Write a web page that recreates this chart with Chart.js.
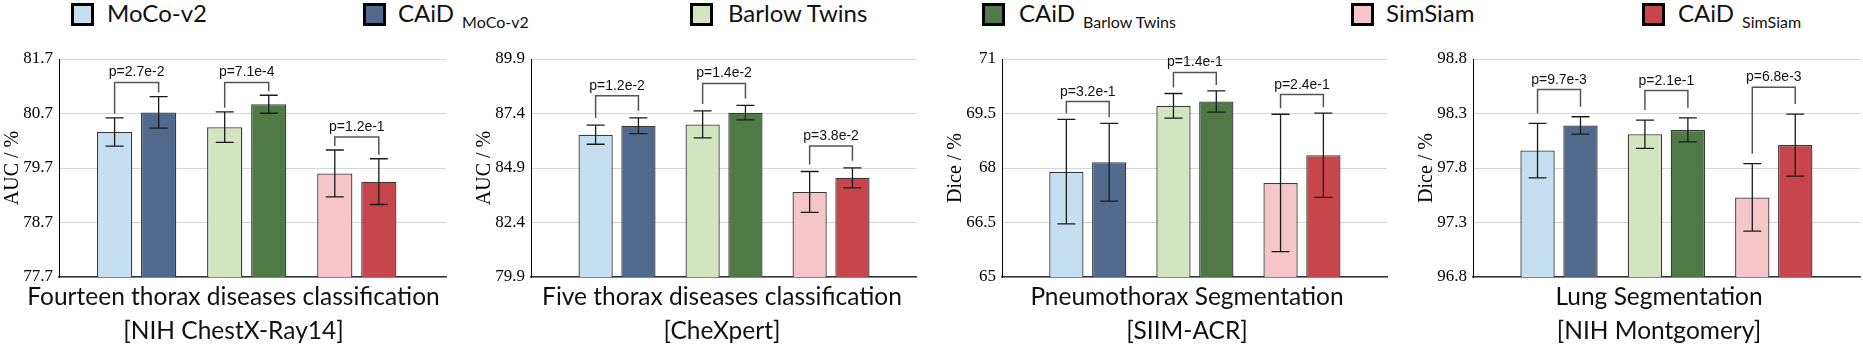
<!DOCTYPE html>
<html>
<head>
<meta charset="utf-8">
<script src="https://cdn.jsdelivr.net/npm/chart.js@4.4.1/dist/chart.umd.min.js"></script>
<style>
  body { margin: 0; background: #fff; width: 1863px; height: 346px; position: relative; overflow: hidden; font-family: Lato, sans-serif; color: #111; }
  .box { position: absolute; top: 3px; width: 17px; height: 17px; border: 3px solid #000; }
  .lab { position: absolute; top: -1px; font-size: 24px; line-height: 28px; white-space: nowrap; }
  .lab sub { font-size: 16px; vertical-align: baseline; position: relative; top: 6px; margin-left: 8px; }
  .panel { position: absolute; top: 40px; }
  .xt { position: absolute; top: 279px; width: 600px; text-align: center; font-size: 24.5px; line-height: 34px; white-space: nowrap; }
</style>
</head>
<body>
<div id="legend"></div>
<div id="charts"></div>
<script>
// methods, in drawing order (pairs share a group)
const methods = ['MoCo-v2', 'CAiD MoCo-v2', 'Barlow Twins', 'CAiD Barlow Twins', 'SimSiam', 'CAiD SimSiam'];
const groups = [1, 2, 3];

// Fourteen thorax diseases classification [NIH ChestX-Ray14]
const chestMean = [80.36, 80.72, 80.45, 80.87, 79.60, 79.45];
const chestErr = [0.26, 0.29, 0.28, 0.165, 0.43, 0.42];
const chestBracket = [81.27, 81.27, 80.27];
const chestP = ['p=2.7e-2', 'p=7.1e-4', 'p=1.2e-1'];
const chestTicks = [77.7, 78.7, 79.7, 80.7, 81.7];

// Five thorax diseases classification [CheXpert]
const chexMean = [86.43, 86.84, 86.90, 87.44, 83.80, 84.45];
const chexErr = [0.44, 0.36, 0.62, 0.33, 0.94, 0.46];
const chexBracket = [88.21, 88.78, 85.91];
const chexP = ['p=1.2e-2', 'p=1.4e-2', 'p=3.8e-2'];
const chexTicks = [79.9, 82.4, 84.9, 87.4, 89.9];

// Pneumothorax Segmentation [SIIM-ACR]
const siimMean = [67.90, 68.16, 69.71, 69.83, 67.59, 68.35];
const siimErr = [1.44, 1.07, 0.34, 0.29, 1.89, 1.16];
const siimBracket = [69.83, 70.63, 70.02];
const siimP = ['p=3.2e-1', 'p=1.4e-1', 'p=2.4e-1'];
const siimTicks = [65, 66.5, 68, 69.5, 71];

// Lung Segmentation [NIH Montgomery]
const lungMean = [97.96, 98.19, 98.11, 98.15, 97.53, 98.01];
const lungErr = [0.25, 0.08, 0.13, 0.11, 0.31, 0.285];
const lungBracket = [98.52, 98.51, 98.54];
const lungP = ['p=9.7e-3', 'p=2.1e-1', 'p=6.8e-3'];
const lungTicks = [96.8, 97.3, 97.8, 98.3, 98.8];

const colors = ['#c5dff0', '#52698e', '#d2e5c0', '#4f7a45', '#f5c5c9', '#c8464b'];

// legend (html, because of the subscripts)
const legendItems = [
  { box: 71, text: 107, main: 'MoCo-v2' },
  { box: 363, text: 398, main: 'CAiD', sub: 'MoCo-v2' },
  { box: 690, text: 728, main: 'Barlow Twins' },
  { box: 982, text: 1019, main: 'CAiD', sub: 'Barlow Twins' },
  { box: 1351, text: 1386, main: 'SimSiam' },
  { box: 1642, text: 1678, main: 'CAiD', sub: 'SimSiam' }
];
const legend = document.getElementById('legend');
legendItems.forEach((it, i) => {
  const b = document.createElement('div');
  b.className = 'box';
  b.style.left = it.box + 'px';
  b.style.background = colors[i];
  legend.appendChild(b);
  const t = document.createElement('div');
  t.className = 'lab';
  t.style.left = it.text + 'px';
  t.innerHTML = it.main + (it.sub ? '<sub>' + it.sub + '</sub>' : '');
  legend.appendChild(t);
});

function sigPlugin(cfg) {
  return {
    id: 'sig',
    afterDatasetsDraw(chart) {
      const y = chart.scales.y;
      const ctx = chart.ctx;
      const xs = [], tops = [];
      ctx.save();
      ctx.strokeStyle = '#1a1a1a';
      ctx.lineWidth = 1.3;
      cfg.mean.forEach((m, i) => {
        const bar = chart.getDatasetMeta(i).data[Math.floor(i / 2)];
        const hi = y.getPixelForValue(m + cfg.err[i]);
        const lo = y.getPixelForValue(m - cfg.err[i]);
        xs.push(bar.x);
        tops.push(hi);
        ctx.beginPath();
        ctx.moveTo(bar.x, hi); ctx.lineTo(bar.x, lo);
        ctx.moveTo(bar.x - 9, hi); ctx.lineTo(bar.x + 9, hi);
        ctx.moveTo(bar.x - 9, lo); ctx.lineTo(bar.x + 9, lo);
        ctx.stroke();
      });
      // significance brackets
      ctx.strokeStyle = '#555';
      ctx.lineWidth = 1.5;
      ctx.fillStyle = '#111';
      ctx.font = '14px "Liberation Sans", Arial, sans-serif';
      ctx.textAlign = 'center';
      ctx.textBaseline = 'alphabetic';
      cfg.bracket.forEach((b, g) => {
        const by = y.getPixelForValue(b);
        const x1 = xs[g * 2], x2 = xs[g * 2 + 1];
        ctx.beginPath();
        ctx.moveTo(x1, tops[g * 2] - cfg.gap);
        ctx.lineTo(x1, by);
        ctx.lineTo(x2, by);
        ctx.lineTo(x2, tops[g * 2 + 1] - cfg.gap);
        ctx.stroke();
        ctx.fillText(cfg.p[g], (x1 + x2) / 2, by - 6);
      });
      ctx.restore();
    }
  };
}

function makePanel(cfg) {
  const wrap = document.createElement('div');
  wrap.className = 'panel';
  const w = (cfg.right - cfg.axis) + 58 + 2;
  const h = 19 + (277 - 59) + 13;
  wrap.style.left = (cfg.axis - 58) + 'px';
  const canvas = document.createElement('canvas');
  canvas.width = w;
  canvas.height = h;
  wrap.appendChild(canvas);
  document.getElementById('charts').appendChild(wrap);

  const xt = document.createElement('div');
  xt.className = 'xt';
  xt.style.left = (cfg.center - 300) + 'px';
  xt.innerHTML = cfg.title.join('<br>');
  document.body.appendChild(xt);

  const datasets = methods.map((name, i) => ({
    label: name,
    data: groups.map(g => ({ x: g, y: g === Math.floor(i / 2) + 1 ? cfg.mean[i] : null })),
    backgroundColor: colors[i],
    borderColor: '#3a3a3a',
    borderWidth: 1.3,
    skipNull: true,
    categoryPercentage: 0.8,
    barPercentage: 0.8
  }));

  new Chart(canvas, {
    type: 'bar',
    data: { datasets },
    options: {
      responsive: false,
      animation: false,
      layout: { padding: { top: 19, bottom: 13, left: 0, right: 2 } },
      plugins: { legend: { display: false }, tooltip: { enabled: false } },
      scales: {
        x: {
          type: 'linear',
          offset: false,
          min: cfg.xMin,
          max: cfg.xMax,
          afterBuildTicks: s => { s.ticks = groups.map(v => ({ value: v })); },
          grid: { display: false, drawTicks: false },
          border: { display: true, color: '#333', width: 1.5 },
          ticks: { display: false },
          afterFit: s => { s.height = 0; s.paddingLeft = 0; s.paddingRight = 0; }
        },
        y: {
          min: cfg.ticks[0],
          max: cfg.ticks[cfg.ticks.length - 1],
          afterBuildTicks: s => { s.ticks = cfg.ticks.map(v => ({ value: v })); },
          grid: { color: '#d6d6d6', lineWidth: 1, drawTicks: false },
          border: { display: true, color: '#000', width: 1 },
          ticks: {
            padding: 6,
            color: '#000',
            font: { family: '"Liberation Serif", "Times New Roman", serif', size: 17 },
            callback: v => String(v)
          },
          title: {
            display: true,
            text: cfg.yTitle,
            color: '#000',
            padding: { top: 0, bottom: 0 },
            font: { family: '"Liberation Serif", "Times New Roman", serif', size: 20 }
          },
          afterFit: s => { s.width = 58; s.paddingTop = 0; s.paddingBottom = 0; }
        }
      }
    },
    plugins: [sigPlugin(cfg)]
  });
}

makePanel({ axis: 59, right: 446, xMin: 0.295, xMax: 3.81, gap: 4, center: 233.5,
  yTitle: 'AUC / %', title: ['Fourteen thorax diseases classification', '[NIH ChestX-Ray14]'],
  mean: chestMean, err: chestErr, bracket: chestBracket, p: chestP, ticks: chestTicks });
makePanel({ axis: 531, right: 916, xMin: 0.196, xMax: 3.794, gap: 7, center: 722,
  yTitle: 'AUC / %', title: ['Five thorax diseases classification', '[CheXpert]'],
  mean: chexMean, err: chexErr, bracket: chexBracket, p: chexP, ticks: chexTicks });
makePanel({ axis: 1002, right: 1387, xMin: 0.199, xMax: 3.794, gap: 6, center: 1187,
  yTitle: 'Dice / %', title: ['Pneumothorax Segmentation', '[SIIM-ACR]'],
  mean: siimMean, err: siimErr, bracket: siimBracket, p: siimP, ticks: siimTicks });
makePanel({ axis: 1473, right: 1860, xMin: 0.199, xMax: 3.803, gap: 10, center: 1659,
  yTitle: 'Dice / %', title: ['Lung Segmentation', '[NIH Montgomery]'],
  mean: lungMean, err: lungErr, bracket: lungBracket, p: lungP, ticks: lungTicks });
</script>
</body>
</html>
